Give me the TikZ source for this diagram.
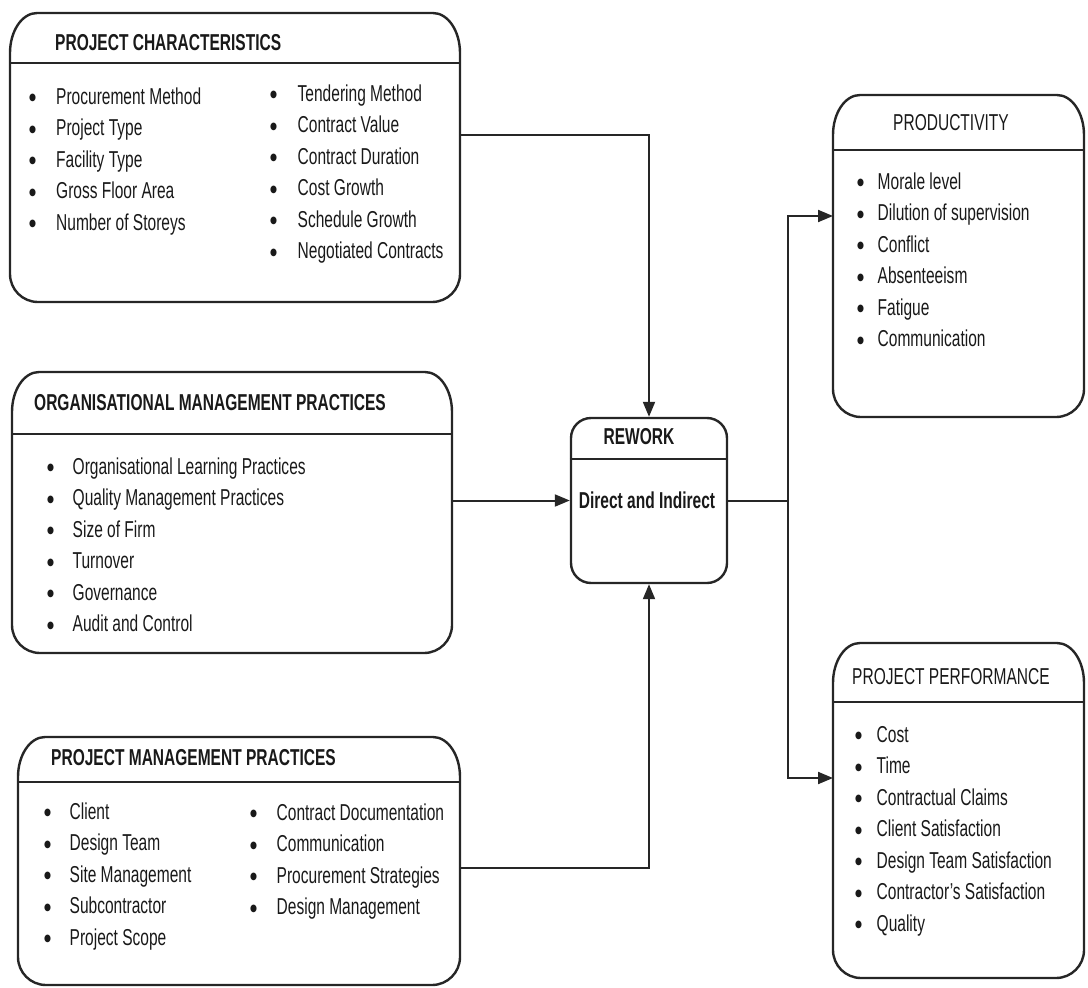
\documentclass[tikz,border=0pt]{standalone}
\usepackage{fontspec}
\setmainfont{Liberation Sans}[FakeStretch=0.675]
\newfontfamily\dotfont{DejaVu Sans}[FakeStretch=0.8]
\usepackage{array}
\usetikzlibrary{arrows.meta,positioning}

\newcommand\fs{\fontsize{23}{31.5}\selectfont}
% outline of a box: tall rounded top corners, header rule #2 below the top
\newcommand\tabbox[2]{%
  \draw[outline] ([yshift=-40]#1.north west) arc[start angle=180, end angle=90, x radius=27, y radius=40]
    -- ([xshift=-27]#1.north east) arc[start angle=90, end angle=0, x radius=27, y radius=40]
    -- ([yshift=28]#1.south east) arc[start angle=0, end angle=-90, radius=28]
    -- ([xshift=28]#1.south west) arc[start angle=270, end angle=180, radius=28] -- cycle;
  \draw[outline] ([yshift=-#2]#1.north west) -- ([yshift=-#2]#1.north east);}
% bullet list, #1 = gap from bullet to text
\newcommand\dotb{\raisebox{3.5pt}{\dotfont\fontsize{10}{10}\selectfont ●}}
\newcommand\bul[2]{\begin{tabular}[t]{@{}p{#1pt}@{}l@{}}#2\end{tabular}}

\begin{document}
\begin{tikzpicture}[x=1pt, y=1pt, font=\fs, text=black!90,
  box/.style={inner sep=0, outer sep=0},
  outline/.style={line width=2.4pt, black!85},
  rwbox/.style={draw=black!85, line width=2.4pt, rounded corners=20, inner sep=0, minimum width=156, minimum height=165},
  head/.style={font=\fs\bfseries, inner sep=0},
  list/.style={inner sep=0, anchor=base west},
  conn/.style={line width=2pt, black!85, -{Triangle[length=15pt,width=12pt]}}
]
\useasboundingbox (0,0) rectangle (1088,-988);
% boxes on the left
\node[box, minimum width=450, minimum height=289] (pc) at (235,-157.5) {};
\node[box, minimum width=440, minimum height=281] (omp) at (232,-512.5) {};
\node[box, minimum width=442, minimum height=248] (pmp) at (239,-861) {};
% boxes on the right
\node[box, minimum width=251, minimum height=322] (prod) at (958.5,-256) {};
\node[box, minimum width=251, minimum height=335] (perf) at (958.5,-810.5) {};
\foreach \b/\h in {pc/50, omp/62, pmp/45, prod/55, perf/59}
  \tabbox{\b}{\h};
% rework in the middle
\node[rwbox] (rw) at (649,-500.5) {};
\draw[outline] ([yshift=-42]rw.north west) -- ([yshift=-42]rw.north east);
\node[head] (rwh) at (639,-437) {REWORK};
\node[head] (rwt) at (647,-500) {Direct and Indirect};

% headers
\node[head, anchor=west] (pch) at (55,-43) {PROJECT CHARACTERISTICS};
\node[head, anchor=west] (omph) at (34,-403) {ORGANISATIONAL MANAGEMENT PRACTICES};
\node[head, anchor=west] (pmph) at (51,-758) {PROJECT MANAGEMENT PRACTICES};
\node[inner sep=0] (prodh) at (951,-123) {PRODUCTIVITY};
\node[inner sep=0] (perfh) at (951,-677) {PROJECT PERFORMANCE};

% lists
\node[list] (pcl) at (29,-104) {\bul{27}{\dotb&Procurement Method\\ \dotb&Project Type\\ \dotb&Facility Type\\ \dotb&Gross Floor Area\\ \dotb&Number of Storeys}};
\node[list] (pcr) at (270,-101) {\bul{27.5}{\dotb&Tendering Method\\ \dotb&Contract Value\\ \dotb&Contract Duration\\ \dotb&Cost Growth\\ \dotb&Schedule Growth\\ \dotb&Negotiated Contracts}};
\node[list] (ompl) at (47,-474) {\bul{25.5}{\dotb&Organisational Learning Practices\\ \dotb&Quality Management Practices\\ \dotb&Size of Firm\\ \dotb&Turnover\\ \dotb&Governance\\ \dotb&Audit and Control}};
\node[list] (pmpl) at (44,-819) {\bul{25.5}{\dotb&Client\\ \dotb&Design Team\\ \dotb&Site Management\\ \dotb&Subcontractor\\ \dotb&Project Scope}};
\node[list] (pmpr) at (250,-820) {\bul{26.5}{\dotb&Contract Documentation\\ \dotb&Communication\\ \dotb&Procurement Strategies\\ \dotb&Design Management}};
\node[list] (prodl) at (857,-189) {\bul{20.5}{\dotb&Morale level\\ \dotb&Dilution of supervision\\ \dotb&Conflict\\ \dotb&Absenteeism\\ \dotb&Fatigue\\ \dotb&Communication}};
\node[list] (perfl) at (855,-742) {\bul{21.5}{\dotb&Cost\\ \dotb&Time\\ \dotb&Contractual Claims\\ \dotb&Client Satisfaction\\ \dotb&Design Team Satisfaction\\ \dotb&Contractor’s Satisfaction\\ \dotb&Quality}};

% connectors
\draw[conn] ([yshift=22.5]pc.east) -| (rw.north);
\draw[conn] (omp.east |- rw.west) -- (rw.west);
\draw[conn] ([yshift=-7]pmp.east) -| (rw.south);
\coordinate (split) at ([xshift=60]rw.east);
\draw[line width=2pt, black!85] (rw.east) -- (split);
\draw[conn] (split) |- ([yshift=40]prod.west);
\draw[conn] (split) |- ([yshift=32.5]perf.west);
\end{tikzpicture}
\end{document}
